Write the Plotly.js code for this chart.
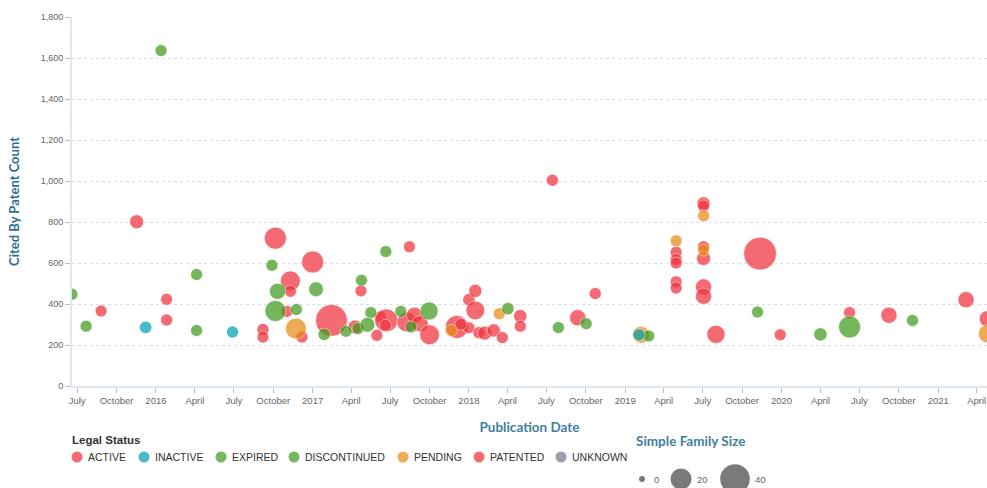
<!DOCTYPE html>
<html>
<head>
<meta charset="utf-8">
<script src="https://cdn.plot.ly/plotly-3.0.1.min.js"></script>
<style>
html,body{margin:0;padding:0;background:#fff;overflow:hidden}
#chart{width:987px;height:488px}
</style>
</head>
<body>
<div id="chart"></div>
<script>
// ---------- DATA ----------
const statusNames = ['ACTIVE','INACTIVE','EXPIRED','DISCONTINUED','PENDING','PATENTED','UNKNOWN'];

const activeDates = ['2015-08-26','2015-11-17','2016-01-26','2016-01-26','2016-09-07','2016-09-07','2016-10-06','2016-11-10','2016-11-10','2016-11-02','2016-12-07','2017-01-01','2017-02-14','2017-04-10','2017-04-24','2017-05-31','2017-06-08','2017-06-22','2017-08-15','2017-08-09','2017-08-27','2017-09-09','2017-10-01','2017-12-04','2018-01-01','2018-01-01','2018-01-16','2018-01-16','2018-01-24','2018-02-07','2018-02-28','2018-03-20','2018-05-01','2018-05-01','2018-07-15','2018-09-12','2018-10-23','2019-04-30','2019-04-30','2019-04-30','2019-04-30','2019-07-03','2019-07-03','2019-07-03','2019-07-03','2019-08-01','2019-11-12','2019-12-29','2020-06-08','2020-09-08','2021-03-07','2021-04-26'];
const activeCited = [366,801,423,322,276,239,721,513,462,364,239,605,320,288,464,247,337,320,679,312,345,304,250,288,284,421,464,369,260,258,271,236,341,292,1004,333,451,653,617,508,478,891,679,622,483,252,646,250,358,345,421,328];
const activeFamily = [4,9,5,5,4,4,22,18,4,4,5,22,46,9,4,6,6,24,4,18,12,12,18,24,5,7,8,16,5,9,8,5,8,4,4,12,4,4,5,4,4,8,4,9,12,15,49,4,4,12,12,12];

const patentedDates = ['2017-06-20','2017-12-13','2019-04-30','2019-07-03','2019-07-03'];
const patentedCited = [296,301,600,878,438];
const patentedFamily = [6,6,5,6,12];

const expiredDates = ['2015-06-19','2015-07-22','2016-01-13','2016-04-05','2016-09-28','2016-10-06','2017-01-09','2017-03-20','2017-04-25','2017-06-21','2017-07-26','2017-09-30','2018-04-02','2018-10-02','2019-11-06','2020-06-08'];
const expiredCited = [447,292,1636,544,589,366,472,267,516,656,364,366,377,304,361,288];
const expiredFamily = [4,4,5,4,4,20,10,4,4,4,4,15,7,4,4,22];

const discontinuedDates = ['2016-04-05','2016-10-11','2016-11-24','2017-01-28','2017-04-17','2017-05-17','2017-05-09','2017-08-19','2018-07-29','2019-02-25','2020-04-01','2020-11-02'];
const discontinuedCited = [271,462,373,252,280,358,299,288,285,244,252,320];
const discontinuedFamily = [4,12,4,7,4,4,10,6,5,6,8,6];

const inactiveDates = ['2015-12-08','2016-06-28','2019-02-02'];
const inactiveCited = [286,263,250];
const inactiveFamily = [7,5,4];

const pendingDates = ['2016-11-23','2017-11-21','2018-03-13','2019-02-07','2019-04-30','2019-07-03','2019-07-03','2021-04-26'];
const pendingCited = [280,271,353,250,708,830,663,255];
const pendingFamily = [20,4,5,13,4,4,4,15];

const unknownDates = [];
const unknownCited = [];
const unknownFamily = [];

const tickVals = ['2015-07-01','2015-10-01','2016-01-01','2016-04-01','2016-07-01','2016-10-01','2017-01-01','2017-04-01','2017-07-01','2017-10-01','2018-01-01','2018-04-01','2018-07-01','2018-10-01','2019-01-01','2019-04-01','2019-07-01','2019-10-01','2020-01-01','2020-04-01','2020-07-01','2020-10-01','2021-01-01','2021-04-01'];
const tickLabels = ['July','October','2016','April','July','October','2017','April','July','October','2018','April','July','October','2019','April','July','October','2020','April','July','October','2021','April'];

const sizeLegendValues = [0, 20, 40];

// ---------- STYLE ----------
const colors = {
  ACTIVE: 'rgb(240,50,60)',
  INACTIVE: 'rgb(0,160,178)',
  EXPIRED: 'rgb(65,155,30)',
  DISCONTINUED: 'rgb(65,155,30)',
  PENDING: 'rgb(232,140,20)',
  PATENTED: 'rgb(240,50,60)',
  UNKNOWN: 'rgb(115,125,140)'
};
const OPAC = 0.72;
// plotly area mode: diameter = sqrt(2*v/sizeref); want 21px at family size 20
const SIZEREF = 40 / 441;
const MINSIZE = 6;
const diam = v => Math.max(MINSIZE, Math.sqrt(2 * v / SIZEREF));

const series = {
  ACTIVE: [activeDates, activeCited, activeFamily],
  INACTIVE: [inactiveDates, inactiveCited, inactiveFamily],
  EXPIRED: [expiredDates, expiredCited, expiredFamily],
  DISCONTINUED: [discontinuedDates, discontinuedCited, discontinuedFamily],
  PENDING: [pendingDates, pendingCited, pendingFamily],
  PATENTED: [patentedDates, patentedCited, patentedFamily],
  UNKNOWN: [unknownDates, unknownCited, unknownFamily]
};
const drawOrder = ['ACTIVE','PATENTED','PENDING','EXPIRED','DISCONTINUED','INACTIVE','UNKNOWN'];

const traces = drawOrder.map(name => ({
  type: 'scatter',
  mode: 'markers',
  name: name,
  x: series[name][0],
  y: series[name][1],
  marker: {
    size: series[name][2],
    sizemode: 'area',
    sizeref: SIZEREF,
    sizemin: MINSIZE,
    color: colors[name],
    opacity: OPAC,
    line: {color: 'rgba(255,255,255,0.6)', width: 1}
  },
  showlegend: false,
  hoverinfo: 'x+y+name'
}));

// ---------- LAYOUT ----------
const L = 72, R = 987, T = 17, B = 386;
const px = x => (x - L) / (R - L);
const py = y => (B - y) / (B - T);

const annotations = [];
const shapes = [];

// Legal status legend (manual, to match compact spacing)
const legendSymX = [77, 144, 221, 294, 403, 479, 561];
const legendY = 457;
annotations.push({xref:'paper', yref:'paper', x: px(70), y: py(440), xanchor:'left', yanchor:'middle', showarrow:false,
  text:'Legal Status', font:{family:'Arial, "Liberation Sans", sans-serif', size:11.5, color:'#333', weight:700}});
statusNames.forEach((name, i) => {
  shapes.push({type:'circle', xref:'paper', yref:'paper', xsizemode:'pixel', ysizemode:'pixel',
    xanchor: px(legendSymX[i]), yanchor: py(legendY), x0:-5.5, x1:5.5, y0:-5.5, y1:5.5,
    fillcolor: colors[name], opacity: OPAC, line:{width:0}});
  annotations.push({xref:'paper', yref:'paper', x: px(legendSymX[i] + 9), y: py(legendY), xanchor:'left', yanchor:'middle',
    showarrow:false, text:name, font:{family:'Arial, "Liberation Sans", sans-serif', size:10.5, color:'#333'}});
});

// Simple family size legend
annotations.push({xref:'paper', yref:'paper', x: px(634), y: py(441), xanchor:'left', yanchor:'middle', showarrow:false,
  text:'Simple Family Size', font:{family:'Lato, sans-serif', size:13.5, color:'#3f7f9f', weight:700}});
const sizeCx = [642, 681, 735];
const sizeTx = [652, 695, 753];
sizeLegendValues.forEach((v, i) => {
  const d = v > 0 ? diam(v) : MINSIZE;
  shapes.push({type:'circle', xref:'paper', yref:'paper', xsizemode:'pixel', ysizemode:'pixel',
    xanchor: px(sizeCx[i]), yanchor: py(479), x0:-d/2, x1:d/2, y0:-d/2, y1:d/2,
    fillcolor:'#7a7a7a', line:{width:0}});
  annotations.push({xref:'paper', yref:'paper', x: px(sizeTx[i]), y: py(479), xanchor:'left', yanchor:'middle', showarrow:false,
    text:String(v), font:{family:'Arial, "Liberation Sans", sans-serif', size:9.5, color:'#666'}});
});

const layout = {
  width: 987, height: 488,
  margin: {l: L, r: 987 - R, t: T, b: 488 - B, pad: 0},
  paper_bgcolor: '#fff', plot_bgcolor: '#fff',
  showlegend: false,
  hovermode: 'closest',
  font: {family: 'Arial, "Liberation Sans", sans-serif', size: 10, color: '#666'},
  xaxis: {
    type: 'date',
    range: ['2015-06-19', '2021-04-25'],
    tickmode: 'array', tickvals: tickVals, ticktext: tickLabels,
    ticks: 'outside', ticklen: 5, tickwidth: 1, tickcolor: '#b8c4d0',
    tickfont: {size: 9.5, color: '#666'},
    showgrid: false, zeroline: false,
    showline: true, linecolor: '#dfe8f1', linewidth: 2,
    title: {text: 'Publication Date', standoff: 17,
      font: {family: 'Lato, sans-serif', size: 13.5, color: '#3f7f9f', weight: 700}}
  },
  yaxis: {
    range: [0, 1800], dtick: 200, tickformat: ',',
    ticks: 'outside', ticklen: 5, tickwidth: 1, tickcolor: '#b8c4d0',
    tickfont: {size: 9, color: '#666'},
    showgrid: true, gridcolor: '#d6e0ea', griddash: 'dot', gridwidth: 1,
    zeroline: false,
    showline: true, linecolor: '#dfe8f1', linewidth: 2,
    title: {text: 'Cited By Patent Count', standoff: 18,
      font: {family: 'Lato, sans-serif', size: 13, color: '#2e6e8e', weight: 700}}
  },
  annotations: annotations,
  shapes: shapes
};

Plotly.newPlot('chart', traces, layout, {displayModeBar: false, responsive: false});
</script>
</body>
</html>
